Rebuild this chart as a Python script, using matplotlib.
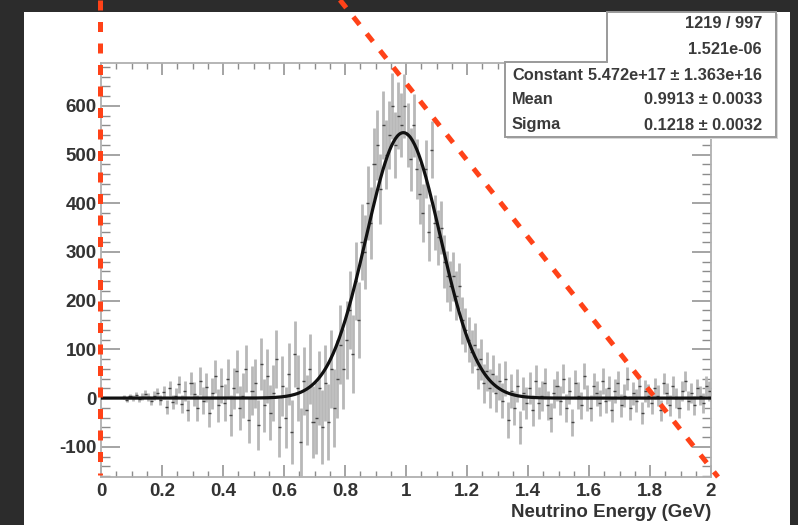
import numpy as np
import matplotlib
matplotlib.use("Agg")
import matplotlib.pyplot as plt
from matplotlib.patches import Rectangle, Polygon
from matplotlib.lines import Line2D

plt.rcParams["font.family"] = ["Liberation Sans", "DejaVu Sans"]
plt.rcParams["axes.unicode_minus"] = False

# histogram: 200 bins of 0.01 GeV from 0 to 2
bin_lo, bin_hi, n_bins = 0.0, 2.0, 200

counts = [
    0, 0, 0, 0, 0, 0, 0, 2, -3, 4, 1, 6, -2, 3, 8, 2, -6, 5, 10, -4,
    12, -18, 20, -8, 4, 28, -12, 15, -25, 30, 8, -20, 35, -5, 22, -30, 10, 45, -15, 25,
    -10, 40, -35, 20, 55, -20, 5, 60, -45, 15, 30, -55, 70, -15, 45, -30, 10, 80, -60, 25,
    -40, 50, -70, 90, 20, -90, 35, -25, 60, -50, -40, 20, -60, 30, -50, 60, -20, 40, 110, 60,
    120, 180, 90, 240, 160, 320, 300, 400, 360, 480, 520, 430, 560, 500, 540, 600, 520, 580, 560, 600,
    540, 490, 560, 470, 420, 380, 470, 340, 510, 360, 330, 350, 280, 250, 230, 250, 210, 230, 160, 140,
    120, 95, 110, 60, 80, 30, 55, 20, 50, 10, 35, -5, 40, -45, 15, -20, 25, -60, 10, -10,
    20, -25, 35, -10, 5, 30, -15, -40, 10, 25, -5, 40, -20, 15, -50, 30, 5, -15, 45, 0,
    -20, 25, 10, -10, 35, -5, 20, -25, 15, 30, -15, 5, 40, -20, 10, -5, 25, -30, 15, 5,
    -10, 20, 5, -25, 30, 10, -15, 25, 0, -20, 15, 35, -5, 10, -15, 20, 5, -10, 25, 15,
]

errors = [
    0, 0, 0, 0, 0, 0, 0, 4, 5, 5, 6, 7, 6, 7, 8, 8, 9, 9, 10, 10,
    12, 14, 15, 15, 16, 18, 18, 20, 22, 24, 25, 26, 28, 28, 30, 30, 32, 34, 34, 36,
    38, 40, 42, 42, 44, 45, 46, 48, 48, 50, 50, 52, 54, 54, 56, 56, 58, 60, 60, 62,
    62, 64, 66, 68, 68, 70, 70, 72, 72, 74, 74, 76, 76, 78, 78, 80, 80, 80, 82, 82,
    80, 80, 80, 80, 78, 78, 76, 76, 74, 74, 72, 72, 70, 70, 70, 68, 68, 68, 66, 66,
    66, 64, 64, 62, 62, 60, 60, 58, 58, 56, 56, 54, 54, 52, 52, 50, 50, 48, 48, 46,
    46, 44, 44, 42, 42, 40, 40, 40, 38, 38, 38, 36, 36, 36, 35, 35, 34, 34, 34, 33,
    33, 32, 32, 32, 31, 31, 30, 30, 30, 30, 29, 29, 29, 28, 28, 28, 28, 27, 27, 27,
    27, 26, 26, 26, 26, 25, 25, 25, 25, 25, 24, 24, 24, 24, 24, 23, 23, 23, 23, 23,
    23, 22, 22, 22, 22, 22, 21, 21, 21, 21, 21, 21, 20, 20, 20, 20, 20, 20, 20, 20,
]

# gaussian fit result (peak height)
fit_peak = 545.0
fit_mean = 0.9913
fit_sigma = 0.1218

stats_rows = [
    ("", "1219 / 997"),
    ("", "1.521e-06"),
    ("Constant", "5.472e+17 \u00b1 1.363e+16"),
    ("Mean", "0.9913 \u00b1 0.0033"),
    ("Sigma", "0.1218 \u00b1 0.0032"),
]

x_ticks = [0, 0.2, 0.4, 0.6, 0.8, 1.0, 1.2, 1.4, 1.6, 1.8, 2.0]
x_tick_labels = ["0", "0.2", "0.4", "0.6", "0.8", "1", "1.2", "1.4", "1.6", "1.8", "2"]
y_ticks = [-100, 0, 100, 200, 300, 400, 500, 600]

W, H = 798, 525
fig = plt.figure(figsize=(W / 100, H / 100), dpi=100, facecolor="#2c2c2c")

# white slide panel behind the plot
fig.patches.append(Rectangle((24 / W, 0), (790 - 24) / W, 1 - 12 / H,
                             transform=fig.transFigure, facecolor="white",
                             edgecolor="none", zorder=-5))

ax = fig.add_axes([101 / W, (H - 477) / H, 610 / W, 414 / H], zorder=1)
ax.set_facecolor("white")

edges = np.linspace(bin_lo, bin_hi, n_bins + 1)
centers = 0.5 * (edges[:-1] + edges[1:])
half_w = 0.5 * (edges[1] - edges[0])
counts = np.array(counts, dtype=float)
errors = np.array(errors, dtype=float)
filled = errors > 0

ax.errorbar(centers[filled], counts[filled], yerr=errors[filled], fmt="none",
            ecolor="#b8b8b8", elinewidth=2.0, zorder=2)
ax.errorbar(centers[filled], counts[filled], xerr=half_w, fmt="none",
            ecolor="#444444", elinewidth=1.0, zorder=3)

xf = np.linspace(bin_lo, bin_hi, 600)
yf = fit_peak * np.exp(-0.5 * ((xf - fit_mean) / fit_sigma) ** 2)
ax.plot(xf, yf, color="#111111", lw=2.3, zorder=4)

ax.set_xlim(bin_lo, bin_hi)
ax.set_ylim(-162, 688)
ax.set_xticks(x_ticks)
ax.set_xticklabels(x_tick_labels)
ax.set_yticks(y_ticks)
ax.set_xticks(np.arange(0, 2.001, 0.05), minor=True)
ax.set_yticks(np.arange(-160, 681, 20), minor=True)

for s in ax.spines.values():
    s.set_color("#b0b0b0")
    s.set_linewidth(1.3)

ax.tick_params(which="both", direction="in", top=True, right=True, color="#8c8c8c")
ax.tick_params(axis="x", which="major", length=8.6, width=1.1, pad=4)
ax.tick_params(axis="x", which="minor", length=4.3, width=1.0)
ax.tick_params(axis="y", which="major", length=13.5, width=1.1, pad=3)
ax.tick_params(axis="y", which="minor", length=6.5, width=1.0)
ax.tick_params(labelsize=13.5, labelcolor="#333333")
for lab in ax.get_xticklabels() + ax.get_yticklabels():
    lab.set_fontweight("bold")

ax.set_xlabel("Neutrino Energy (GeV)", loc="right", fontsize=13.5,
              fontweight="bold", color="#333333", labelpad=3)

# overlay in pixel coordinates for the stats box and the red marks
ov = fig.add_axes([0, 0, 1, 1], zorder=10)
ov.set_xlim(0, W)
ov.set_ylim(H, 0)
ov.axis("off")
ov.patch.set_alpha(0)

box = [(607, 12), (776, 12), (776, 137), (505, 137), (505, 62), (607, 62)]
shadow = [(p[0] + 2, p[1] + 2) for p in box]
ov.add_patch(Polygon(shadow, closed=True, facecolor="#d8d8d8", edgecolor="none"))
ov.add_patch(Polygon(box, closed=True, facecolor="white", edgecolor="#9a9a9a", lw=1.4))

row_y = [23, 49, 76, 100, 125]
for (name, val), y in zip(stats_rows, row_y):
    if name:
        ov.text(512, y, name, ha="left", va="center", fontsize=11.8,
                fontweight="bold", color="#3a3a3a")
    ov.text(762, y, val, ha="right", va="center", fontsize=11.8,
            fontweight="bold", color="#3a3a3a")

red = "#ff4218"
ov.add_line(Line2D([100, 100], [0, 475], color=red, lw=3.6,
                   dashes=(2.0, 2.3), solid_capstyle="butt"))
ov.add_line(Line2D([340, 718], [0, 477], color=red, lw=3.6,
                   dashes=(2.0, 2.3), solid_capstyle="butt"))

fig.savefig("out.png", dpi=100, facecolor=fig.get_facecolor())
